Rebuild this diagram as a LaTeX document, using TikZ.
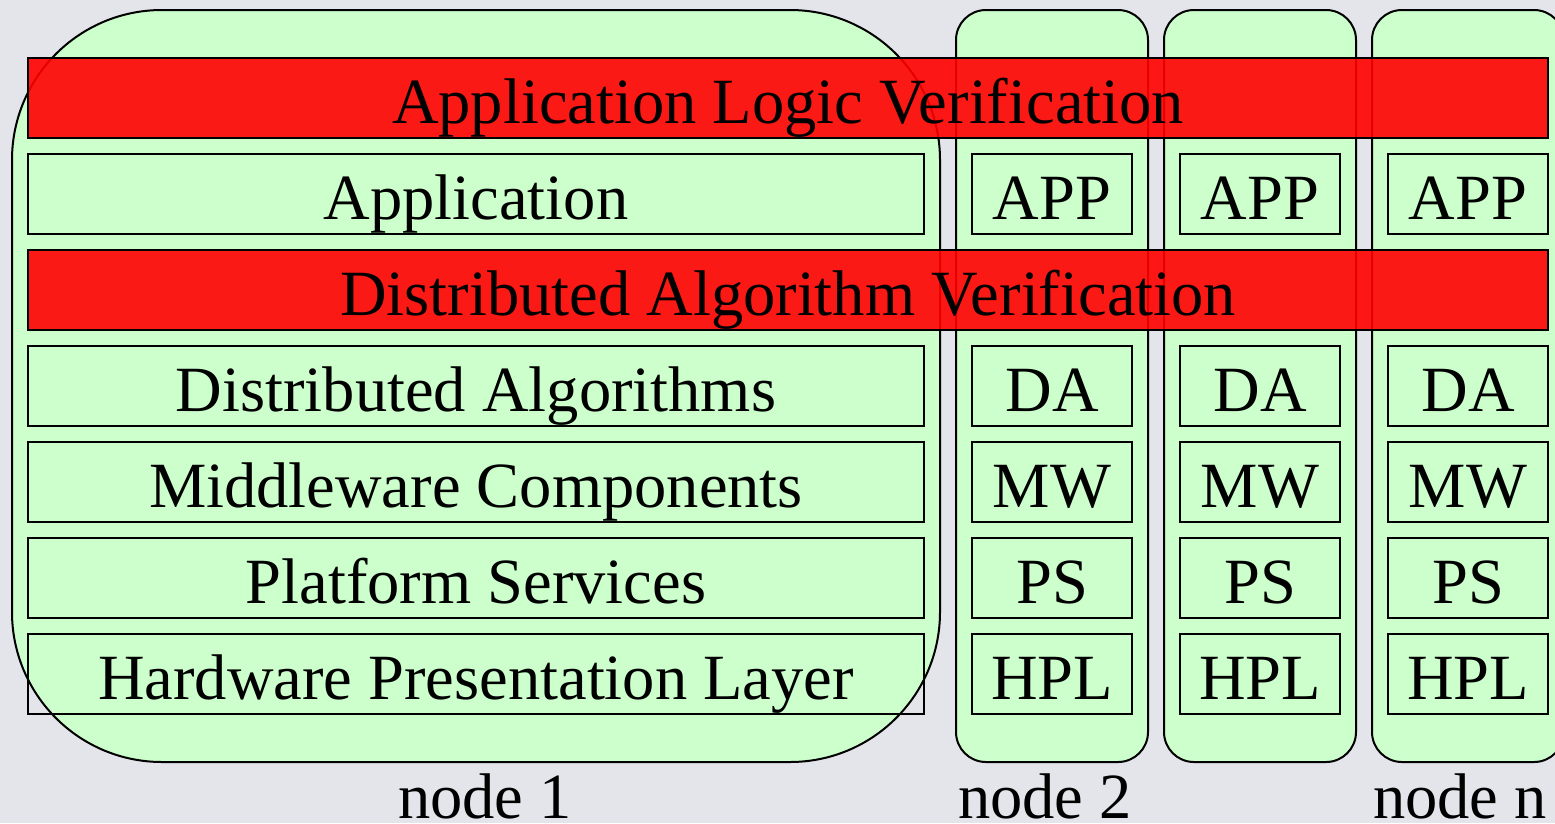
\documentclass[tikz,border=0pt]{standalone}
\usepackage{fontspec}
\setmainfont{Liberation Serif}
\definecolor{bggray}{HTML}{E4E5EA}
\definecolor{nodegreen}{HTML}{CCFFCC}
\begin{document}
\begin{tikzpicture}[x=1pt,y=-1pt,
  hostbox/.style={draw=black, fill=nodegreen, line width=2pt, inner sep=0pt, outer sep=0pt},
  smallhost/.style={hostbox, rounded corners=30pt, minimum width=192pt, minimum height=752pt},
  layerbox/.style={draw=black, line width=2.2pt, inner sep=0pt, outer sep=0pt, minimum height=80pt, text height=51pt, text depth=0pt, font=\fontsize{64.5}{70}\selectfont},
  widebox/.style={layerbox, minimum width=896pt},
  narrowbox/.style={layerbox, minimum width=160pt},
  verifbar/.style={layerbox, fill=red, fill opacity=0.9, text opacity=1, minimum width=1520pt},
  caption/.style={anchor=base, inner sep=0pt, font=\fontsize{64.5}{70}\selectfont}]
\useasboundingbox (0,0) rectangle (1555,823);
\clip (0,0) rectangle (1555,823);
\fill[bggray] (0,0) rectangle (1555,823);
% hosts
\node[hostbox, rounded corners=150pt, minimum width=928pt, minimum height=752pt] (n1) at (476,386) {};
\node[smallhost] (n2) at (1052,386) {};
\node[smallhost] (n3) at (1260,386) {};
\node[smallhost] (nn) at (1468,386) {};
% node 1 layers
\node[widebox] (app1) at (476,194) {Application};
\node[widebox] (da1) at (476,386) {Distributed Algorithms};
\node[widebox] (mw1) at (476,482) {Middleware Components};
\node[widebox] (ps1) at (476,578) {Platform Services};
\node[widebox] (hpl1) at (476,674) {Hardware Presentation Layer};
% node 2 layers
\node[narrowbox] (app2) at (1052,194) {APP};
\node[narrowbox] (da2) at (1052,386) {DA};
\node[narrowbox] (mw2) at (1052,482) {MW};
\node[narrowbox] (ps2) at (1052,578) {PS};
\node[narrowbox] (hpl2) at (1052,674) {HPL};
% node 3 layers
\node[narrowbox] (app3) at (1260,194) {APP};
\node[narrowbox] (da3) at (1260,386) {DA};
\node[narrowbox] (mw3) at (1260,482) {MW};
\node[narrowbox] (ps3) at (1260,578) {PS};
\node[narrowbox] (hpl3) at (1260,674) {HPL};
% node n layers
\node[narrowbox] (appn) at (1468,194) {APP};
\node[narrowbox] (dan) at (1468,386) {DA};
\node[narrowbox] (mwn) at (1468,482) {MW};
\node[narrowbox] (psn) at (1468,578) {PS};
\node[narrowbox] (hpln) at (1468,674) {HPL};
% verification bars
\node[verifbar] (alv) at (788,98) {Application Logic Verification};
\node[verifbar] (dav) at (788,290) {Distributed Algorithm Verification};
% captions
\node[caption] (c1) at (485,818) {node 1};
\node[caption] (c2) at (1045,818) {node 2};
\node[caption] (cn) at (1460,818) {node n};
\end{tikzpicture}
\end{document}
